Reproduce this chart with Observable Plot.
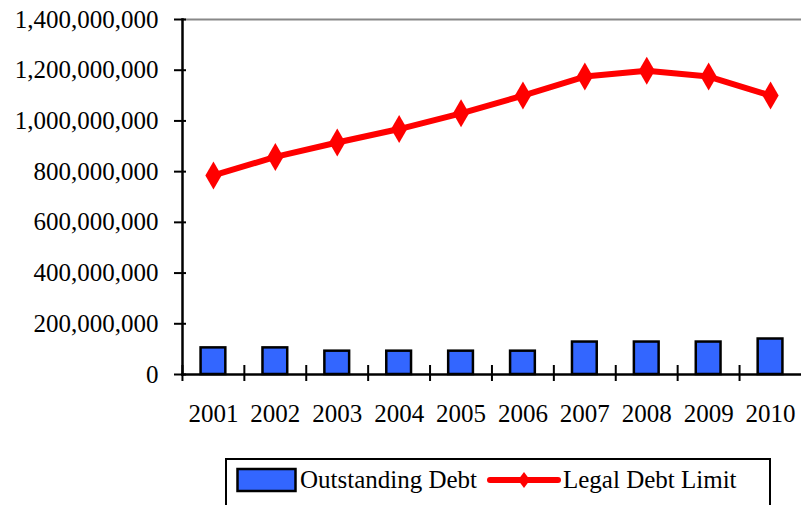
<!DOCTYPE html>
<html>
<head>
<meta charset="utf-8">
<script src="https://cdn.jsdelivr.net/npm/d3@7"></script>
<script src="https://cdn.jsdelivr.net/npm/@observablehq/plot@0.6"></script>
<style>
  body { margin: 0; background: white; }
  #wrap { position: relative; width: 801px; height: 505px; overflow: hidden; background: white; }
  #chart svg text { font-family: "Liberation Serif", "Times New Roman", serif; }
  #legend { position: absolute; left: 225px; top: 458px; width: 546px; height: 60px;
    border: 2px solid black; box-sizing: border-box; font-family: "Liberation Serif", "Times New Roman", serif;
    font-size: 25px; }
  #legend .item { position: absolute; top: 6px; display: flex; align-items: center; }
</style>
</head>
<body>
<div id="wrap">
  <div id="chart"></div>
  <div id="legend"></div>
</div>
<script>
const years = ["2001","2002","2003","2004","2005","2006","2007","2008","2009","2010"];
const outstandingDebt = [105e6, 105e6, 92e6, 92e6, 92e6, 92e6, 128e6, 128e6, 128e6, 140e6];
const legalDebtLimit = [785e6, 858e6, 915e6, 968e6, 1030e6, 1100e6, 1175e6, 1198e6, 1175e6, 1100e6];
const yTicks = [0, 200e6, 400e6, 600e6, 800e6, 1000e6, 1200e6, 1400e6];
const seriesNames = ["Outstanding Debt", "Legal Debt Limit"];

const data = years.map((y, i) => ({year: y, debt: outstandingDebt[i], limit: legalDebtLimit[i]}));
const blue = "#3366FF", red = "#FF0000";

const chart = Plot.plot({
  width: 801, height: 455,
  marginTop: 19, marginBottom: 81, marginLeft: 182, marginRight: 0,
  style: {fontFamily: "'Liberation Serif', 'Times New Roman', serif", fontSize: "25px", color: "black", background: "white"},
  x: {type: "band", domain: years, paddingInner: 0.6, paddingOuter: 0.3, round: false, axis: null},
  y: {domain: [0, 1.4e9], axis: null},
  marks: [
    Plot.frame({anchor: "top", stroke: "#888", strokeWidth: 2}),
    Plot.barY(data, {x: "year", y: "debt", fill: blue, stroke: "black", strokeWidth: 2.5}),
    Plot.axisY({ticks: yTicks, tickFormat: d3.format(","), tickSize: 12, dx: 4, tickPadding: 16, strokeWidth: 2, label: null}),
    Plot.axisX({ticks: years, tickSize: 16, dy: -9, dx: -31, text: null, strokeWidth: 2, label: null}),
    Plot.axisX({ticks: years, tickSize: 0, tickPadding: 30, label: null}),
    Plot.frame({anchor: "left", stroke: "black", strokeWidth: 2.5}),
    Plot.frame({anchor: "bottom", stroke: "black", strokeWidth: 2.5}),
    Plot.line(data, {x: "year", y: "limit", stroke: red, strokeWidth: 6}),
    Plot.dot(data, {x: "year", y: "limit", symbol: "diamond", r: 8.5, fill: red, stroke: "none"})
  ]
});
document.getElementById("chart").appendChild(chart);

const legend = document.getElementById("legend");
legend.innerHTML = `
  <div class="item" style="left:9px">
    <svg width="62" height="26"><rect x="1.5" y="2" width="58" height="22" fill="${blue}" stroke="black" stroke-width="2.5"/></svg>
    <span style="margin-left:2px">${seriesNames[0]}</span>
  </div>
  <div class="item" style="left:259px">
    <svg width="76" height="26"><line x1="4" y1="13" x2="72" y2="13" stroke="${red}" stroke-width="6" stroke-linecap="round"/>
    <path d="M38,5 L44,13 L38,21 L32,13 Z" fill="${red}"/></svg>
    <span style="margin-left:1px">${seriesNames[1]}</span>
  </div>`;
</script>
</body>
</html>
